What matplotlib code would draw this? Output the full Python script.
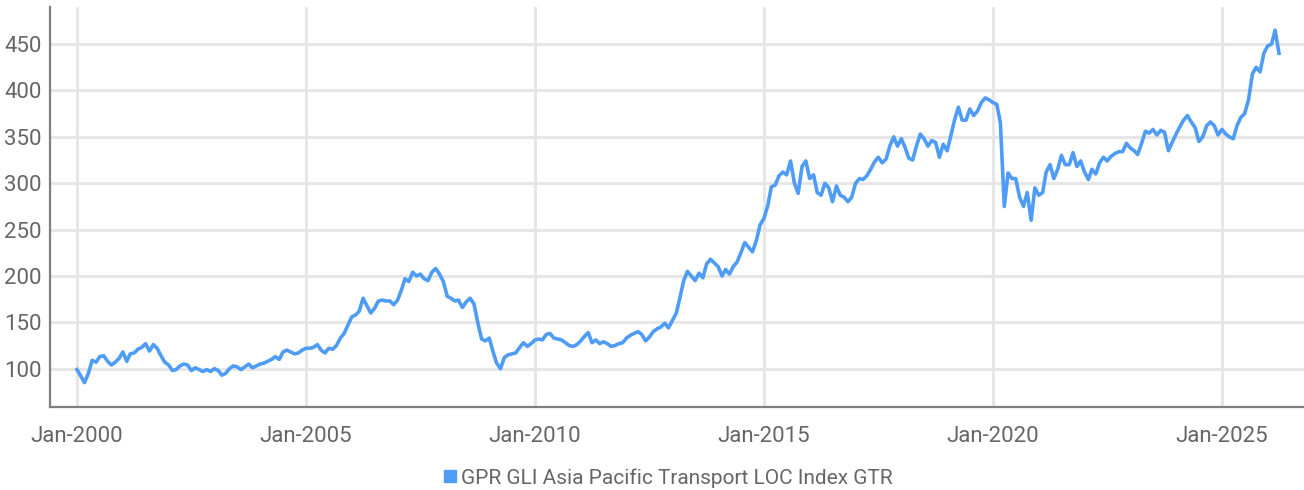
import pandas as pd
import matplotlib
matplotlib.use("Agg")
import matplotlib.pyplot as plt
import matplotlib.dates as mdates
from matplotlib.lines import Line2D

plt.rcParams['font.family'] = ['Roboto', 'DejaVu Sans']

# monthly index values, Jan-2000 .. Apr-2026
v2000 = [99, 92, 85, 95, 109, 107, 113, 114, 108, 104, 107, 111]
v2001 = [118, 108, 116, 117, 121, 123, 127, 119, 126, 122, 114, 107]
v2002 = [104, 98, 99, 103, 105, 104, 98, 101, 99, 97, 99, 97]
v2003 = [100, 98, 93, 95, 100, 103, 102, 99, 102, 105, 101, 103]
v2004 = [105, 106, 108, 110, 113, 110, 118, 120, 118, 116, 117, 120]
v2005 = [122, 122, 123, 126, 120, 117, 122, 121, 125, 133, 138, 147]
v2006 = [156, 158, 162, 176, 168, 160, 165, 173, 174, 173, 173, 169]
v2007 = [174, 185, 197, 194, 204, 200, 202, 197, 195, 204, 208, 202]
v2008 = [194, 178, 176, 173, 174, 166, 172, 176, 170, 150, 132, 130]
v2009 = [133, 118, 106, 100, 112, 115, 116, 117, 123, 128, 124, 127]
v2010 = [131, 132, 131, 137, 138, 133, 132, 131, 128, 125, 124, 126]
v2011 = [130, 135, 139, 128, 131, 127, 129, 127, 124, 125, 127, 128]
v2012 = [133, 136, 138, 140, 137, 130, 134, 140, 143, 145, 149, 144]
v2013 = [152, 160, 176, 195, 205, 200, 195, 203, 198, 213, 218, 214]
v2014 = [210, 200, 207, 202, 210, 215, 225, 236, 231, 226, 238, 255]
v2015 = [262, 276, 296, 298, 308, 312, 309, 324, 300, 289, 318, 324]
v2016 = [305, 309, 290, 287, 300, 295, 280, 297, 287, 285, 280, 285]
v2017 = [300, 305, 304, 308, 315, 323, 328, 322, 326, 340, 350, 340]
v2018 = [348, 338, 327, 325, 340, 353, 348, 340, 346, 344, 328, 342]
v2019 = [335, 352, 368, 382, 368, 368, 380, 373, 378, 387, 392, 390]
v2020 = [387, 385, 365, 275, 311, 305, 305, 285, 275, 290, 260, 295]
v2021 = [287, 290, 312, 320, 305, 315, 330, 320, 320, 333, 318, 324]
v2022 = [312, 304, 315, 310, 322, 328, 324, 329, 332, 334, 334, 343]
v2023 = [338, 335, 331, 343, 356, 354, 358, 352, 357, 355, 335, 344]
v2024 = [353, 361, 368, 373, 366, 360, 345, 350, 362, 366, 362, 352]
v2025 = [358, 353, 350, 348, 362, 371, 375, 390, 418, 425, 420, 440]
v2026 = [448, 450, 465, 440]

values = (v2000 + v2001 + v2002 + v2003 + v2004 + v2005 + v2006 + v2007 + v2008
          + v2009 + v2010 + v2011 + v2012 + v2013 + v2014 + v2015 + v2016 + v2017
          + v2018 + v2019 + v2020 + v2021 + v2022 + v2023 + v2024 + v2025 + v2026)
dates = pd.date_range('2000-01-01', periods=len(values), freq='MS')

series_name = 'GPR GLI Asia Pacific Transport LOC Index GTR'
tick_years = [2000, 2005, 2010, 2015, 2020, 2025]
y_ticks = [100, 150, 200, 250, 300, 350, 400, 450]

blue = '#4e9cf6'
grid_c = '#e6e6e6'
text_c = '#666666'

fig = plt.figure(figsize=(13.04, 4.9), dpi=100)
ax = fig.add_axes([50/1304, 1 - 407/490, 1 - 50/1304, 400/490])

ax.plot(dates, values, color=blue, linewidth=2.6, zorder=3)

# axis limits
start = pd.Timestamp('2000-01-01')
ax.set_xlim(mdates.date2num(start) - 7.07 * 30.44, mdates.date2num(start) + 321.5 * 30.44)
ax.set_ylim(58.7, 490)

ax.set_xticks([pd.Timestamp(f'{y}-01-01') for y in tick_years])
ax.set_xticklabels([f'Jan-{y}' for y in tick_years])
ax.set_yticks(y_ticks)

ax.tick_params(axis='both', length=0, labelsize=16, colors=text_c)
ax.tick_params(axis='x', pad=14)
ax.tick_params(axis='y', pad=6)

ax.grid(True, color=grid_c, linewidth=2.2, zorder=0)
ax.set_axisbelow(True)

for s in ['top', 'right']:
    ax.spines[s].set_visible(False)
for s in ['left', 'bottom']:
    ax.spines[s].set_color('#7f7f7f')
    ax.spines[s].set_linewidth(1.6)

# legend
handle = Line2D([], [], marker='s', linestyle='none', markersize=9,
                markerfacecolor=blue, markeredgecolor=blue)
fig.legend([handle], [series_name], loc='center',
           bbox_to_anchor=(667/1304, 1 - 478/490), frameon=False,
           fontsize=15, labelcolor=text_c, handletextpad=0.1,
           handlelength=0.8)

fig.savefig('out.png', dpi=100)
